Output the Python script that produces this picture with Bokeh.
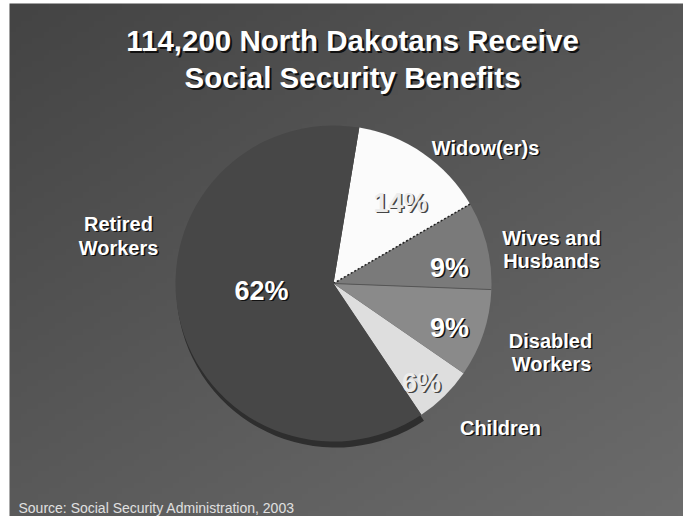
import numpy as np
from bokeh.plotting import figure
from bokeh.models import Range1d, ColumnDataSource
from bokeh.core.properties import value
from bokeh.embed import file_html
from bokeh.resources import INLINE

# ---- data ----
categories = ["Children", "Disabled Workers", "Wives and Husbands", "Widow(er)s", "Retired Workers"]
shares = [6, 9, 9, 14, 62]
pct_labels = ["6%", "9%", "9%", "14%", "62%"]
title_lines = ["114,200 North Dakotans Receive", "Social Security Benefits"]
source_text = "Source:  Social Security Administration, 2003"

# ---- layout / style ----
W, H = 683, 516
FONT = value("Liberation Sans")
cx, cy = 333, H - 283
R = 158
start_deg = -56.2

def Y(pix):
    return H - pix

p = figure(width=W, height=H, x_range=Range1d(0, W), y_range=Range1d(0, H),
           output_backend="svg", toolbar_location=None, min_border=0)
p.axis.visible = False
p.grid.visible = False
p.outline_line_color = None
p.background_fill_color = "white"
p.border_fill_color = "white"

# background gradient (top-left dark to bottom-right lighter)
gw, gh = 120, 90
xx = np.linspace(0, 1, gw)[None, :]
yy = np.linspace(0, 1, gh)[:, None]  # 0 = bottom
t = 0.45 * xx + 0.55 * (1 - yy)
g = (68 + t * 40).astype(np.uint32)
img = (255 << 24) | (g << 16) | (g << 8) | g
p.image_rgba(image=[img.astype(np.uint32)], x=9, y=0, dw=W - 9, dh=H - 3)

# wedges
frac = np.array(shares, dtype=float) / sum(shares)
ends = np.deg2rad(start_deg) + np.cumsum(frac) * 2 * np.pi
starts = np.concatenate([[np.deg2rad(start_deg)], ends[:-1]])
colors = ["#dedede", "#8a8a8a", "#7a7a7a", "#fbfbfb", "#474747"]

# rim / shadow of the big slice
p.wedge(x=cx + 2, y=cy - 5, radius=R + 1, start_angle=starts[4], end_angle=ends[4],
        fill_color="#2e2e2e", line_color=None)
src = ColumnDataSource(dict(start=starts, end=ends, color=colors, cat=categories))
p.wedge(x=cx, y=cy, radius=R, start_angle="start", end_angle="end",
        fill_color="color", line_color=None, source=src)
# dotted boundary between widow and wives
a = ends[2]
p.line(x=[cx, cx + R * np.cos(a)], y=[cy, cy + R * np.sin(a)],
       line_color="#222222", line_width=1.5, line_dash="2 2")
p.line(x=[cx, cx + R * np.cos(ends[1])], y=[cy, cy + R * np.sin(ends[1])],
       line_color="#555555", line_width=1)

def shadow_text(x, y, txt, size, color="white", shadow="#111111", off=2, align="center",
                style="bold"):
    p.text(x=[x + off], y=[Y(y) - off], text=[txt], text_font=FONT,
           text_font_size=f"{size}px", text_font_style=style, text_color=shadow,
           text_align=align, text_baseline="alphabetic")
    p.text(x=[x], y=[Y(y)], text=[txt], text_font=FONT,
           text_font_size=f"{size}px", text_font_style=style, text_color=color,
           text_align=align, text_baseline="alphabetic")

# title
shadow_text(352, 40, title_lines[0], 29.5)
shadow_text(352, 77, title_lines[1], 29.5)

# category labels
shadow_text(485, 147, categories[3], 20, off=1.5)
shadow_text(551, 237, "Wives and", 20, off=1.5)
shadow_text(551, 260, "Husbands", 20, off=1.5)
shadow_text(550, 340, "Disabled", 20, off=1.5)
shadow_text(551, 363, "Workers", 20, off=1.5)
shadow_text(500, 427, categories[0], 20, off=1.5)
shadow_text(118, 223, "Retired", 20, off=1.5)
shadow_text(118, 247, "Workers", 20, off=1.5)

# percentage labels
shadow_text(400, 202, pct_labels[3], 27, color="#ececec", shadow="#444444", off=1.5)
shadow_text(449, 267, pct_labels[2], 27, off=1.5)
shadow_text(449, 327, pct_labels[1], 27, off=1.5)
shadow_text(421, 382, pct_labels[0], 27, color="#ececec", shadow="#444444", off=1.5)
shadow_text(261, 290, pct_labels[4], 27, off=1.5)

# source
p.text(x=[18], y=[Y(507)], text=[source_text], text_font=FONT, text_font_size="14px",
       text_color="#e0e0e0", text_align="left", text_baseline="alphabetic")

open("out.html", "w").write(file_html(p, INLINE))
